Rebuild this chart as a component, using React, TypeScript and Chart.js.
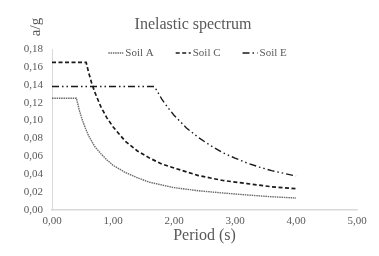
import React, { useEffect, useRef } from "react";
import { Chart, registerables } from "chart.js";

Chart.register(...registerables);

const chartTitle = "Inelastic spectrum";
const xTitle = "Period (s)";
const yTitle = "a/g";

const periodsA = [0, 0.4, 0.45, 0.5, 0.55, 0.6, 0.7, 0.8, 0.9, 1.0, 1.2, 1.4, 1.6, 1.8, 2.0, 2.4, 2.8, 3.2, 3.6, 4.0];
const soilA = [0.125, 0.125, 0.111, 0.1, 0.091, 0.083, 0.071, 0.063, 0.056, 0.05, 0.042, 0.036, 0.031, 0.028, 0.025, 0.0215, 0.019, 0.0168, 0.0148, 0.0134];

const periodsC = [0, 0.56, 0.6, 0.65, 0.7, 0.8, 0.9, 1.0, 1.2, 1.4, 1.6, 1.8, 2.0, 2.4, 2.8, 3.2, 3.6, 4.0];
const soilC = [0.165, 0.165, 0.154, 0.142, 0.132, 0.1155, 0.103, 0.093, 0.077, 0.066, 0.058, 0.0515, 0.047, 0.0385, 0.033, 0.0295, 0.026, 0.0238];

const periodsE = [0, 1.68, 1.8, 1.9, 2.0, 2.2, 2.4, 2.6, 2.8, 3.0, 3.2, 3.4, 3.6, 3.8, 4.0];
const soilE = [0.138, 0.138, 0.124, 0.1145, 0.106, 0.092, 0.081, 0.072, 0.064, 0.058, 0.0525, 0.048, 0.044, 0.041, 0.038];

const seriesLabels = ["Soil A", "Soil C", "Soil E"];

const FONT = '"Liberation Serif", "Times New Roman", serif';
const TEXT = "#595959";

const toPoints = (xs: number[], ys: number[]) => xs.map((x, i) => ({ x, y: ys[i] }));
const comma = (v: number) => Number(v).toFixed(2).replace(".", ",");

const overlayPlugin = {
  id: "overlay",
  afterDatasetsDraw(chart: any) {
    const { ctx, chartArea } = chart;
    // chart title
    ctx.save();
    ctx.fillStyle = TEXT;
    ctx.font = `16px ${FONT}`;
    ctx.textAlign = "center";
    ctx.textBaseline = "middle";
    ctx.fillText(chartTitle, 193, chartArea.top - 24);
    ctx.restore();

    // y-axis title at top-left
    ctx.save();
    ctx.fillStyle = TEXT;
    ctx.font = `15px ${FONT}`;
    ctx.translate(chartArea.left - 16, chartArea.top - 22);
    ctx.rotate(-Math.PI / 2);
    ctx.textAlign = "center";
    ctx.textBaseline = "middle";
    ctx.fillText(yTitle, 0, 0);
    ctx.restore();

    // inline legend
    ctx.save();
    ctx.font = `11px ${FONT}`;
    const sample = 15;
    const gap = 2;
    const spacing = 22;
    const ds = chart.data.datasets;
    const widths = ds.map((d: any) => sample + gap + ctx.measureText(d.label).width);
    const total = widths.reduce((a: number, b: number) => a + b, 0) + spacing * (ds.length - 1);
    let x = (chartArea.left + chartArea.right) / 2 - 7 - total / 2;
    const y = chartArea.top + 4;
    ds.forEach((d: any, i: number) => {
      ctx.beginPath();
      ctx.setLineDash(d.borderDash || []);
      ctx.strokeStyle = d.borderColor;
      ctx.lineWidth = d.borderWidth;
      ctx.moveTo(x, y);
      ctx.lineTo(x + sample, y);
      ctx.stroke();
      ctx.setLineDash([]);
      ctx.fillStyle = TEXT;
      ctx.textAlign = "left";
      ctx.textBaseline = "middle";
      ctx.fillText(d.label, x + sample + gap, y);
      x += widths[i] + spacing;
    });
    ctx.restore();
  },
};

export default function App() {
  const canvasRef = useRef<HTMLCanvasElement | null>(null);

  useEffect(() => {
    if (!canvasRef.current) return;
    const chart = new Chart(canvasRef.current, {
      type: "line",
      data: {
        datasets: [
          {
            label: seriesLabels[0],
            data: toPoints(periodsA, soilA),
            borderColor: "#6a6a6a",
            borderWidth: 1.4,
            borderDash: [1.5, 0.8],
            pointRadius: 0,
            tension: 0,
            fill: false,
          },
          {
            label: seriesLabels[1],
            data: toPoints(periodsC, soilC),
            borderColor: "#1a1a1a",
            borderWidth: 1.7,
            borderDash: [4, 2.5],
            pointRadius: 0,
            tension: 0,
            fill: false,
          },
          {
            label: seriesLabels[2],
            data: toPoints(periodsE, soilE),
            borderColor: "#1a1a1a",
            borderWidth: 1.4,
            borderDash: [7, 3, 1.5, 3, 1.5, 3],
            pointRadius: 0,
            tension: 0,
            fill: false,
          },
        ],
      },
      options: {
        responsive: false,
        animation: false,
        layout: { padding: { left: 0, right: 22, top: 49, bottom: 0 } },
        plugins: {
          legend: { display: false },
          tooltip: { enabled: false },
          title: { display: false },
        },
        scales: {
          x: {
            type: "linear",
            min: 0,
            max: 5,
            ticks: {
              stepSize: 1,
              color: TEXT,
              font: { family: FONT, size: 11 },
              padding: 5,
              callback: (v: any) => comma(v),
              maxRotation: 0,
            },
            grid: { display: false, drawTicks: false },
            border: { display: true, color: "#d9d9d9", width: 1.5 },
            title: {
              display: true,
              text: xTitle,
              color: TEXT,
              font: { family: FONT, size: 16 },
              padding: { top: 0, bottom: 11 },
            },
            afterFit: (s: any) => {
              s.height = 46;
            },
          },
          y: {
            min: 0,
            max: 0.18,
            ticks: {
              stepSize: 0.02,
              color: TEXT,
              font: { family: FONT, size: 11 },
              padding: 9,
              callback: (v: any) => comma(v),
            },
            grid: { display: false, drawTicks: false },
            border: { display: true, color: "#d9d9d9", width: 1 },
            afterFit: (s: any) => {
              s.width = 52;
            },
          },
        },
      },
      plugins: [overlayPlugin],
    });
    return () => chart.destroy();
  }, []);

  return (
    <div style={{ position: "fixed", left: 0, top: 0, width: 379, height: 256, background: "#fff" }}>
      <canvas ref={canvasRef} width={379} height={256} style={{ display: "block" }} />
    </div>
  );
}
